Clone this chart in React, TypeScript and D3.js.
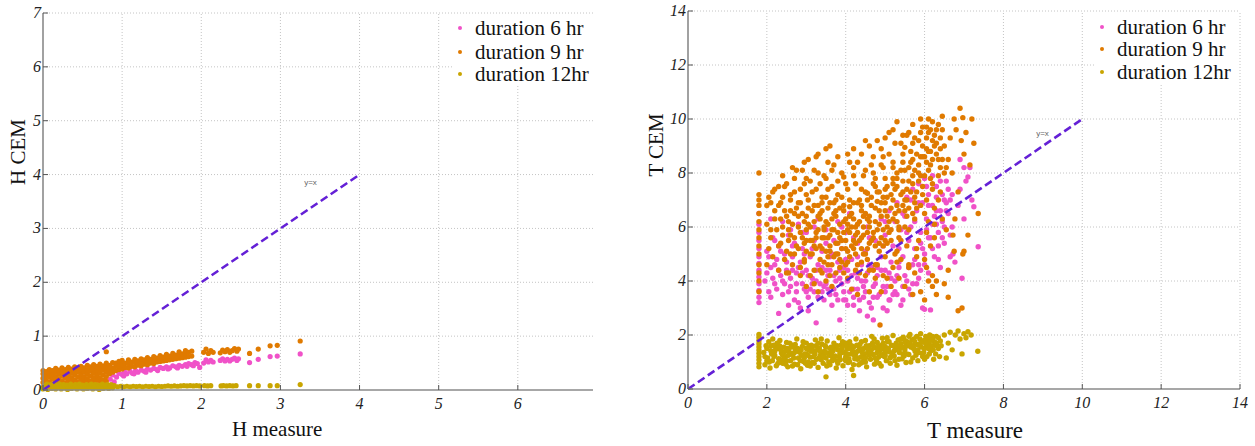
import React from 'react';
import * as d3 from 'd3';

type P = [number, number];

const legendLabels = ['duration 6 hr', 'duration 9 hr', 'duration 12hr'];
const seriesColors = ['#f052c8', '#e07a00', '#c9a500'];
const refColor = '#6420d6';

const hTicksX = [0, 1, 2, 3, 4, 5, 6];
const hTicksY = [0, 1, 2, 3, 4, 5, 6, 7];
const tTicksX = [0, 2, 4, 6, 8, 10, 12, 14];
const tTicksY = [0, 2, 4, 6, 8, 10, 12, 14];

const hRefLine: P[] = [[0, 0], [4, 4]];
const tRefLine: P[] = [[0, 0], [10, 10]];
const hRefLabelPos: P = [3.3, 3.8];
const tRefLabelPos: P = [8.83, 9.37];

// ---------- H panel ----------
const h6: P[] = [
  [0.85, 0.2], [0.88, 0.28], [0.9, 0.15], [0.93, 0.24], [0.96, 0.31], [1.0, 0.29], [1.03, 0.34], [1.06, 0.3],
  [1.1, 0.35], [1.13, 0.31], [1.17, 0.36], [1.2, 0.33], [1.24, 0.37], [1.28, 0.35], [1.32, 0.39], [1.36, 0.37],
  [1.4, 0.4], [1.44, 0.38], [1.48, 0.42], [1.52, 0.4], [1.56, 0.43], [1.6, 0.41], [1.64, 0.45], [1.68, 0.43],
  [1.72, 0.46], [1.76, 0.44], [1.8, 0.47], [1.84, 0.49], [1.88, 0.47], [1.92, 0.51], [1.95, 0.49], [1.98, 0.42],
  [1.02, 0.26], [1.15, 0.3], [1.3, 0.33], [1.45, 0.36], [1.58, 0.39], [1.7, 0.41], [1.82, 0.44], [1.9, 0.45],
  [2.03, 0.5], [2.06, 0.56], [2.09, 0.52], [2.12, 0.55], [2.15, 0.52], [2.24, 0.55], [2.27, 0.58], [2.3, 0.54],
  [2.33, 0.57], [2.36, 0.54], [2.39, 0.57], [2.42, 0.59], [2.45, 0.55], [2.47, 0.58],
  [2.61, 0.51], [2.72, 0.57], [2.87, 0.62], [2.96, 0.63], [3.25, 0.67],
];

const h9: P[] = [
  [0.0, 0.05], [0.0, 0.14], [0.0, 0.22], [0.0, 0.3], [0.0, 0.36],
  [0.04, 0.1], [0.04, 0.18], [0.04, 0.27], [0.04, 0.34],
  [0.08, 0.07], [0.08, 0.15], [0.08, 0.24], [0.08, 0.32], [0.08, 0.38],
  [0.12, 0.11], [0.12, 0.2], [0.12, 0.29], [0.12, 0.36],
  [0.16, 0.08], [0.16, 0.16], [0.16, 0.25], [0.16, 0.33], [0.16, 0.4],
  [0.2, 0.12], [0.2, 0.21], [0.2, 0.3], [0.2, 0.37],
  [0.24, 0.09], [0.24, 0.17], [0.24, 0.26], [0.24, 0.34], [0.24, 0.41],
  [0.28, 0.13], [0.28, 0.22], [0.28, 0.31], [0.28, 0.38],
  [0.32, 0.1], [0.32, 0.18], [0.32, 0.27], [0.32, 0.35], [0.32, 0.42],
  [0.36, 0.14], [0.36, 0.23], [0.36, 0.32], [0.36, 0.39],
  [0.4, 0.11], [0.4, 0.19], [0.4, 0.28], [0.4, 0.36], [0.4, 0.43],
  [0.44, 0.15], [0.44, 0.24], [0.44, 0.33], [0.44, 0.4],
  [0.48, 0.12], [0.48, 0.2], [0.48, 0.29], [0.48, 0.37], [0.48, 0.44],
  [0.52, 0.16], [0.52, 0.25], [0.52, 0.34], [0.52, 0.41],
  [0.56, 0.13], [0.56, 0.21], [0.56, 0.3], [0.56, 0.38], [0.56, 0.46],
  [0.6, 0.17], [0.6, 0.26], [0.6, 0.35], [0.6, 0.43],
  [0.64, 0.14], [0.64, 0.22], [0.64, 0.31], [0.64, 0.39], [0.64, 0.47],
  [0.68, 0.18], [0.68, 0.27], [0.68, 0.36], [0.68, 0.44],
  [0.72, 0.15], [0.72, 0.23], [0.72, 0.32], [0.72, 0.4], [0.72, 0.48],
  [0.76, 0.19], [0.76, 0.28], [0.76, 0.37], [0.76, 0.45],
  [0.8, 0.16], [0.8, 0.25], [0.8, 0.34], [0.8, 0.42], [0.8, 0.5], [0.8, 0.71],
  [0.84, 0.3], [0.84, 0.38], [0.84, 0.46],
  [0.88, 0.33], [0.88, 0.41], [0.88, 0.51],
  [0.92, 0.36], [0.92, 0.44], [0.92, 0.5],
  [0.96, 0.38], [0.96, 0.45], [0.96, 0.53],
  [1.0, 0.39], [1.0, 0.47], [1.0, 0.55],
  [1.04, 0.42], [1.04, 0.5],
  [1.08, 0.41], [1.08, 0.49], [1.08, 0.56],
  [1.12, 0.44], [1.12, 0.52],
  [1.16, 0.43], [1.16, 0.51], [1.16, 0.57],
  [1.2, 0.46], [1.2, 0.54],
  [1.24, 0.45], [1.24, 0.52], [1.24, 0.58],
  [1.28, 0.48], [1.28, 0.56],
  [1.32, 0.47], [1.32, 0.54], [1.32, 0.6],
  [1.36, 0.5], [1.36, 0.57],
  [1.4, 0.49], [1.4, 0.56], [1.4, 0.62],
  [1.44, 0.52], [1.44, 0.59],
  [1.48, 0.53], [1.48, 0.6], [1.48, 0.64],
  [1.52, 0.54], [1.52, 0.61],
  [1.56, 0.55], [1.56, 0.62], [1.56, 0.66],
  [1.6, 0.56], [1.6, 0.63],
  [1.64, 0.57], [1.64, 0.64], [1.64, 0.68],
  [1.68, 0.58], [1.68, 0.65],
  [1.72, 0.59], [1.72, 0.66], [1.72, 0.71],
  [1.76, 0.6], [1.76, 0.67],
  [1.8, 0.61], [1.8, 0.68], [1.8, 0.73],
  [1.84, 0.62], [1.84, 0.7],
  [1.88, 0.63], [1.88, 0.72],
  [2.03, 0.7], [2.06, 0.76], [2.09, 0.68], [2.12, 0.73], [2.15, 0.7],
  [2.24, 0.69], [2.27, 0.74], [2.3, 0.71], [2.33, 0.75], [2.36, 0.7], [2.39, 0.73], [2.42, 0.77], [2.45, 0.72], [2.47, 0.76],
  [2.61, 0.68], [2.72, 0.76], [2.87, 0.82], [2.96, 0.83], [3.25, 0.91],
];

const h12: P[] = [
  [0.0, 0.02], [0.02, 0.08], [0.03, 0.04], [0.05, 0.11], [0.06, 0.01], [0.08, 0.06], [0.1, 0.1], [0.11, 0.03],
  [0.13, 0.07], [0.15, 0.12], [0.16, 0.02], [0.18, 0.08], [0.2, 0.05], [0.21, 0.11], [0.23, 0.02], [0.25, 0.07],
  [0.26, 0.1], [0.28, 0.04], [0.3, 0.09], [0.31, 0.01], [0.33, 0.06], [0.35, 0.11], [0.36, 0.03], [0.38, 0.08],
  [0.4, 0.05], [0.41, 0.1], [0.43, 0.02], [0.45, 0.07], [0.46, 0.11], [0.48, 0.04], [0.5, 0.09], [0.51, 0.02],
  [0.53, 0.06], [0.55, 0.1], [0.56, 0.03], [0.58, 0.08], [0.6, 0.05], [0.61, 0.11], [0.63, 0.02], [0.65, 0.07],
  [0.66, 0.1], [0.68, 0.04], [0.7, 0.09], [0.71, 0.01], [0.73, 0.06], [0.75, 0.11], [0.76, 0.03], [0.78, 0.08],
  [0.8, 0.05], [0.81, 0.1], [0.83, 0.03], [0.85, 0.07], [0.86, 0.1], [0.88, 0.04], [0.9, 0.08],
  [0.94, 0.06], [0.98, 0.07], [1.02, 0.06], [1.06, 0.07], [1.1, 0.06], [1.14, 0.07], [1.18, 0.065], [1.22, 0.07],
  [1.26, 0.06], [1.3, 0.07], [1.34, 0.065], [1.38, 0.07], [1.42, 0.06], [1.46, 0.07], [1.5, 0.065], [1.54, 0.07],
  [1.58, 0.075], [1.62, 0.07], [1.66, 0.075], [1.7, 0.07], [1.74, 0.075], [1.78, 0.08], [1.82, 0.075], [1.86, 0.08],
  [1.9, 0.075], [1.94, 0.08], [1.98, 0.075], [2.04, 0.08], [2.08, 0.075], [2.12, 0.08],
  [2.25, 0.075], [2.28, 0.08], [2.32, 0.075], [2.36, 0.08], [2.4, 0.075], [2.44, 0.08],
  [2.61, 0.08], [2.72, 0.08], [2.87, 0.08], [2.96, 0.08], [3.25, 0.1],
];

// ---------- T panel ----------
const t6a: P[] = [
  [1.8, 3.2], [1.8, 3.4], [1.8, 3.65], [1.8, 3.9], [1.8, 4.15], [1.8, 4.4], [1.8, 4.65], [1.8, 4.9], [1.8, 5.2],
  [1.8, 5.5], [1.8, 5.8], [1.8, 6.1], [1.8, 6.5],
  [1.95, 4.0], [2.0, 5.1], [2.05, 3.6], [2.1, 4.5], [2.15, 5.6], [2.2, 3.9], [2.25, 4.8], [2.3, 2.8], [2.3, 5.3],
  [2.35, 4.2], [2.4, 3.5], [2.45, 5.0], [2.5, 4.4], [2.55, 5.7], [2.55, 3.1], [2.6, 3.8], [2.65, 4.9], [2.7, 3.3],
  [2.7, 5.4], [2.75, 4.3], [2.8, 3.2], [2.8, 6.1], [2.85, 3.0], [2.85, 4.7], [2.9, 5.2], [2.95, 3.7], [3.0, 4.4],
  [3.0, 5.8], [3.05, 3.4], [3.05, 2.9], [3.1, 4.9], [3.15, 4.1], [3.2, 5.5], [3.2, 3.6], [3.25, 2.45], [3.3, 4.6],
  [3.3, 6.3], [3.35, 3.9], [3.4, 5.1], [3.45, 3.3], [3.5, 4.4], [3.5, 5.9], [3.55, 3.7], [3.6, 4.9], [3.65, 3.1],
  [3.7, 4.2], [3.7, 5.5], [3.75, 3.5], [3.8, 6.2], [3.8, 4.7], [3.85, 2.56], [3.9, 3.9], [3.9, 5.2], [3.95, 4.5],
  [4.0, 3.3], [4.0, 5.8], [4.05, 4.0], [4.1, 3.6], [4.1, 6.5], [4.15, 4.8], [4.2, 3.1], [4.25, 4.3], [4.3, 5.4],
  [4.3, 3.7], [4.35, 2.9], [4.4, 4.6], [4.45, 3.4], [4.5, 5.1], [4.5, 4.0], [4.55, 6.0], [4.55, 2.7], [4.6, 3.2],
  [4.65, 4.5], [4.7, 2.56], [4.7, 3.8], [4.75, 5.5], [4.8, 4.2], [4.85, 3.5], [4.9, 4.9], [4.9, 6.3], [4.95, 3.0],
  [5.0, 4.4], [5.0, 5.7], [5.05, 3.8], [5.1, 3.3], [5.1, 6.6], [5.12, 3.3], [5.15, 4.7], [5.2, 5.3], [5.25, 4.0],
  [5.3, 3.5], [5.3, 6.9], [5.35, 4.5], [5.4, 5.9], [5.45, 3.3], [5.45, 4.9], [5.5, 6.4], [5.5, 4.2], [5.55, 7.1],
  [5.6, 5.5], [5.6, 3.7], [5.65, 6.0], [5.7, 4.6], [5.7, 7.4], [5.75, 5.2], [5.8, 6.6], [5.8, 3.9], [5.85, 7.6],
  [5.9, 5.8], [5.9, 4.4], [5.95, 3.0], [5.95, 6.9], [6.0, 5.0], [6.0, 7.8], [6.0, 2.95], [6.05, 6.3], [6.1, 4.3],
  [6.1, 7.2], [6.15, 5.6], [6.15, 2.93], [6.2, 6.8], [6.2, 7.9], [6.25, 4.9], [6.3, 6.1], [6.3, 7.5], [6.35, 5.3],
  [6.4, 6.6], [6.4, 4.5], [6.45, 7.2], [6.5, 5.4], [6.5, 6.0], [6.55, 7.7], [6.6, 6.5], [6.65, 4.9], [6.7, 7.2],
  [6.72, 5.0], [6.77, 4.7], [6.85, 6.8], [6.9, 8.5], [6.9, 7.4], [6.95, 4.1], [7.0, 8.2], [7.0, 6.3], [7.05, 7.7],
  [7.1, 7.85], [7.15, 8.2], [7.2, 7.0], [7.25, 6.75], [7.36, 5.27],
];

const t6b: P[] = [
  [2.0, 4.3], [2.1, 3.4], [2.2, 4.6], [2.25, 3.7], [2.35, 5.1], [2.45, 3.9], [2.5, 4.7], [2.6, 4.1], [2.65, 5.3],
  [2.75, 3.6], [2.8, 4.5], [2.9, 3.9], [2.95, 5.0], [3.05, 4.2], [3.1, 3.7], [3.15, 5.2], [3.25, 4.0], [3.3, 3.4],
  [3.4, 4.5], [3.45, 3.8], [3.55, 4.2], [3.6, 3.5], [3.65, 5.0], [3.75, 4.0], [3.8, 3.3], [3.85, 4.4], [3.95, 3.6],
  [4.0, 4.8], [4.05, 3.1], [4.15, 4.2], [4.2, 3.7], [4.3, 4.9], [4.35, 3.3], [4.4, 4.0], [4.5, 3.6], [4.6, 4.6],
  [4.65, 3.0], [4.75, 3.9], [4.8, 3.4], [4.9, 4.4], [5.0, 3.6], [5.05, 2.9], [5.15, 4.1], [5.25, 3.6], [5.35, 4.7],
  [5.4, 3.1], [5.55, 4.0], [5.65, 3.5], [5.75, 4.8], [5.85, 4.1], [5.9, 5.4], [6.0, 4.6], [6.05, 5.9], [6.1, 6.8],
  [6.2, 5.2], [6.25, 6.4], [6.3, 7.1], [6.35, 5.8], [6.4, 7.7], [6.45, 6.2], [6.5, 7.0], [6.55, 6.6], [6.6, 7.4],
  [6.65, 5.7], [6.7, 6.0], [6.05, 7.5], [5.85, 6.9], [5.75, 6.2], [5.65, 7.0], [5.55, 5.8], [5.45, 6.5], [5.35, 5.2],
  [5.25, 6.2], [4.95, 5.3], [5.0, 6.2], [4.6, 5.6], [4.2, 5.6], [3.9, 6.0], [3.5, 5.4], [3.2, 6.0], [2.9, 5.8],
  [2.6, 5.9], [2.4, 6.2], [2.2, 5.5], [2.1, 6.3],
];

const t6c: P[] = [
  [2.05, 4.9], [2.15, 4.1], [2.3, 4.4], [2.4, 4.0], [2.55, 3.6], [2.65, 4.4], [2.75, 3.9], [2.9, 4.3], [3.0, 3.6],
  [3.15, 3.9], [3.25, 4.4], [3.4, 3.6], [3.5, 3.9], [3.6, 4.4], [3.7, 3.7], [3.85, 4.1], [3.95, 3.3], [4.05, 4.4],
  [4.2, 3.4], [4.3, 4.1], [4.45, 3.8], [4.55, 4.3], [4.7, 3.4], [4.8, 4.5], [4.95, 3.8], [5.1, 4.3], [5.2, 3.5],
  [5.3, 4.2], [5.45, 3.8], [5.6, 4.5], [5.7, 3.9], [5.85, 4.6], [5.95, 5.2], [6.1, 5.6], [6.2, 6.1], [6.3, 6.6],
  [6.35, 4.8], [6.45, 5.6], [6.55, 6.9], [6.65, 7.0],
];

const t9a: P[] = [
  [1.8, 3.6], [1.8, 4.0], [1.8, 4.3], [1.8, 4.6], [1.8, 5.0], [1.8, 5.3], [1.8, 5.6], [1.8, 5.9], [1.8, 6.2],
  [1.8, 6.5], [1.8, 6.8], [1.8, 7.0], [1.8, 7.2], [1.8, 8.0],
  [2.0, 4.6], [2.0, 6.1], [2.0, 6.8], [2.05, 5.2], [2.1, 6.9], [2.1, 5.6], [2.15, 4.9], [2.2, 6.3], [2.2, 7.4],
  [2.25, 5.9], [2.3, 6.8], [2.3, 4.4], [2.3, 7.5], [2.35, 5.4], [2.4, 7.1], [2.4, 6.0], [2.45, 6.6], [2.5, 5.1],
  [2.5, 7.6], [2.5, 4.3], [2.55, 6.2], [2.6, 7.0], [2.6, 5.7], [2.6, 6.6], [2.65, 4.6], [2.7, 6.5], [2.7, 7.8],
  [2.75, 5.3], [2.8, 6.9], [2.8, 6.0], [2.85, 7.4], [2.9, 5.6], [2.9, 8.1], [2.9, 6.5], [2.95, 4.8], [3.0, 6.4],
  [3.0, 7.2], [3.0, 5.1], [3.05, 8.5], [3.1, 6.0], [3.1, 7.7], [3.1, 5.5], [3.15, 5.5], [3.2, 6.8], [3.2, 4.4],
  [3.2, 3.9], [3.25, 7.4], [3.25, 5.2], [3.3, 5.9], [3.3, 8.0], [3.35, 6.5], [3.4, 5.2], [3.4, 7.1], [3.4, 6.6],
  [3.45, 4.7], [3.45, 6.0], [3.5, 6.2], [3.5, 7.8], [3.5, 8.9], [3.55, 5.6], [3.55, 4.9], [3.6, 6.9], [3.6, 4.2],
  [3.6, 5.3], [3.65, 7.5], [3.65, 6.3], [3.7, 5.9], [3.7, 8.3], [3.75, 6.6], [3.75, 5.4], [3.8, 5.0], [3.8, 7.2],
  [3.85, 6.1], [3.85, 4.8], [3.9, 8.0], [3.9, 5.5], [3.95, 6.8], [3.95, 5.8], [3.95, 4.3], [4.0, 4.6], [4.0, 7.6],
  [4.0, 6.3], [4.05, 8.7], [4.05, 5.1], [4.1, 5.8], [4.1, 7.0], [4.15, 6.5], [4.15, 6.0], [4.2, 5.2], [4.2, 7.9],
  [4.25, 6.0], [4.25, 5.4], [4.3, 8.4], [4.3, 6.9], [4.3, 3.5], [4.35, 4.3], [4.35, 6.2], [4.4, 7.4], [4.4, 5.6],
  [4.4, 4.7], [4.45, 6.4], [4.45, 5.0], [4.5, 8.1], [4.5, 5.0], [4.55, 7.0], [4.55, 5.8], [4.6, 9.0], [4.6, 6.2],
  [4.65, 5.5], [4.65, 6.8], [4.7, 7.6], [4.7, 8.6], [4.75, 6.7], [4.75, 5.3], [4.75, 4.1], [4.8, 4.6], [4.8, 5.9],
  [4.85, 7.3], [4.85, 6.1], [4.87, 2.37], [4.9, 8.3], [4.9, 6.4], [4.9, 3.6], [4.95, 5.3], [4.95, 7.1], [5.0, 7.8],
  [5.0, 9.3], [5.0, 6.9], [5.05, 4.1], [5.05, 6.0], [5.1, 5.8], [5.1, 8.7], [5.15, 7.2], [5.15, 6.7], [5.2, 6.3],
  [5.2, 9.6], [5.2, 4.5], [5.25, 5.0], [5.25, 7.4], [5.3, 8.0], [5.3, 7.5], [5.35, 6.6], [5.35, 5.9], [5.4, 9.1],
  [5.4, 5.5], [5.45, 8.4], [5.45, 7.7], [5.5, 7.0], [5.5, 6.0], [5.5, 3.8], [5.55, 9.4], [5.55, 6.4], [5.6, 7.7],
  [5.6, 4.6], [5.65, 8.8], [5.65, 7.3], [5.7, 6.5], [5.7, 9.8], [5.75, 8.1], [5.75, 6.9], [5.8, 7.3], [5.8, 5.2],
  [5.85, 9.2], [5.85, 8.0], [5.9, 8.6], [5.9, 6.8], [5.9, 3.6], [5.95, 9.7], [5.95, 7.5], [6.0, 7.9], [6.0, 4.8],
  [6.0, 3.3], [6.05, 8.9], [6.05, 8.4], [6.1, 9.5], [6.1, 6.2], [6.1, 4.0], [6.15, 8.3], [6.15, 7.8], [6.2, 7.4],
  [6.2, 9.9], [6.25, 5.6], [6.25, 9.0], [6.3, 8.7], [6.3, 4.0], [6.3, 3.5], [6.35, 7.0], [6.35, 8.5], [6.4, 9.3],
  [6.45, 6.3], [6.45, 9.6], [6.5, 8.0], [6.5, 9.0], [6.5, 3.9], [6.55, 5.9], [6.6, 8.5], [6.6, 3.4], [6.6, 4.4],
  [6.65, 9.3], [6.7, 8.0], [6.72, 5.7], [6.75, 10.0], [6.75, 5.1], [6.77, 6.3], [6.8, 9.6], [6.85, 7.3], [6.85, 2.9],
  [6.9, 10.4], [6.93, 9.2], [6.95, 3.0], [6.97, 10.05], [6.97, 5.0], [7.0, 8.7], [7.0, 5.1], [7.05, 9.5], [7.1, 5.7],
  [7.15, 8.3], [7.2, 10.0], [7.25, 9.1], [7.36, 6.5],
];

const t9b: P[] = [
  [5.3, 9.9], [5.6, 9.5], [5.9, 10.0], [6.05, 9.7], [6.3, 9.6], [5.1, 9.5], [4.8, 9.2], [6.45, 10.1],
  [3.6, 9.0], [4.2, 8.9], [4.5, 9.2], [4.9, 8.9], [5.25, 9.1], [5.5, 8.95], [5.75, 9.3], [6.2, 9.2], [6.4, 8.9], [3.3, 8.7],
  [2.95, 8.4], [3.25, 8.6], [3.55, 8.4], [3.8, 8.6], [4.1, 8.4], [4.4, 8.7], [4.65, 8.3], [4.95, 8.6], [5.2, 8.4],
  [5.45, 8.7], [5.7, 8.5], [5.95, 8.6], [6.15, 8.8], [6.45, 8.5], [2.65, 8.2],
  [2.4, 7.9], [2.75, 8.1], [3.0, 7.8], [3.2, 8.1], [3.45, 7.9], [3.65, 8.1], [3.95, 7.85], [4.2, 8.2], [4.45, 7.9],
  [4.7, 8.0], [4.95, 8.2], [5.2, 7.8], [5.4, 8.1], [5.6, 8.2], [5.85, 7.7], [6.1, 8.1], [6.35, 7.9], [6.55, 8.2],
  [2.15, 7.3], [2.45, 7.5], [2.7, 7.3], [2.95, 7.6], [3.15, 7.3], [3.35, 7.6], [3.55, 7.4], [3.8, 7.7], [4.05, 7.4],
  [4.25, 7.6], [4.5, 7.3], [4.75, 7.5], [5.0, 7.4], [5.2, 7.6], [5.45, 7.3], [5.7, 7.6], [5.95, 7.2], [6.2, 7.6], [6.4, 7.3],
  [2.05, 7.1], [2.35, 6.9], [2.6, 7.2], [2.85, 6.9], [3.05, 7.0], [3.3, 6.8], [3.5, 7.1], [3.7, 6.9], [3.9, 7.1],
  [4.1, 6.75], [4.35, 7.0], [4.55, 7.25], [4.8, 6.95], [5.05, 7.1], [5.3, 6.8], [5.55, 7.0], [5.8, 6.7], [6.05, 7.0], [6.25, 6.7],
  [2.2, 6.6], [2.5, 6.4], [2.75, 6.7], [2.95, 6.2], [3.15, 6.6], [3.35, 6.3], [3.55, 6.7], [3.75, 6.4], [3.95, 6.6],
  [4.2, 6.3], [4.4, 6.6], [4.6, 6.4], [4.85, 6.6], [5.05, 6.4], [5.3, 6.2], [5.5, 6.6], [5.75, 6.3], [6.0, 6.5], [6.25, 6.1],
  [2.1, 5.9], [2.4, 5.7], [2.65, 6.1], [2.85, 5.8], [3.05, 6.1], [3.25, 5.8], [3.45, 5.6], [3.65, 5.9], [3.85, 5.6],
  [4.05, 5.9], [4.25, 5.7], [4.45, 6.0], [4.7, 5.8], [4.9, 5.6], [5.15, 5.9], [5.35, 5.6], [5.6, 5.9], [5.85, 5.5], [6.05, 5.8],
  [2.3, 5.3], [2.55, 5.5], [2.8, 5.2], [3.0, 5.5], [3.2, 5.3], [3.4, 5.6], [3.6, 5.1], [3.8, 5.4], [4.0, 5.2],
  [4.2, 5.5], [4.4, 5.2], [4.6, 5.4], [4.85, 5.1], [5.05, 5.4], [5.3, 5.1], [5.55, 5.3], [5.8, 4.9], [6.15, 5.3],
  [2.45, 4.8], [2.7, 5.0], [2.95, 4.7], [3.15, 5.0], [3.35, 4.8], [3.55, 4.6], [3.7, 4.9], [3.9, 4.7], [4.1, 4.9],
  [4.3, 4.6], [4.55, 4.8], [4.75, 4.6], [5.0, 4.9], [5.3, 4.7], [5.6, 4.5],
  [2.55, 4.3], [2.85, 4.5], [3.1, 4.2], [3.35, 4.4], [3.5, 4.0], [3.75, 4.3], [4.05, 4.1], [4.25, 4.4], [4.5, 4.2],
  [4.7, 4.4], [4.95, 4.2], [5.35, 4.1], [5.75, 4.3], [6.05, 4.5],
  [3.0, 3.8], [3.3, 3.6], [3.65, 3.8], [4.15, 3.7], [4.6, 3.6], [5.15, 3.8], [5.7, 3.5], [6.2, 3.8],
];

const t9c: P[] = [
  [2.35, 6.3], [2.55, 5.9], [2.7, 5.6], [2.8, 6.4], [2.95, 5.4], [3.05, 6.7], [3.1, 5.0], [3.2, 6.2], [3.25, 5.6],
  [3.35, 5.3], [3.4, 6.9], [3.45, 5.9], [3.55, 6.1], [3.6, 5.7], [3.65, 4.6], [3.7, 6.5], [3.75, 5.0], [3.8, 5.8],
  [3.85, 6.7], [3.9, 5.2], [3.95, 6.2], [4.0, 5.5], [4.05, 4.7], [4.1, 6.4], [4.15, 5.3], [4.2, 6.9], [4.25, 5.0],
  [4.3, 6.1], [4.35, 5.5], [4.4, 6.8], [4.45, 5.7], [4.5, 6.5], [4.55, 5.2], [4.6, 6.0], [4.65, 7.1], [4.7, 5.6],
  [4.75, 6.2], [4.8, 7.3], [4.85, 5.4], [4.9, 6.9], [4.95, 5.9], [5.0, 6.6], [5.05, 7.5], [5.1, 6.2], [5.15, 5.5],
  [5.2, 7.0], [5.25, 6.5], [5.3, 7.8], [5.35, 6.0], [5.4, 7.2], [5.45, 6.8], [5.5, 8.1], [5.55, 7.4], [5.6, 6.7],
  [5.65, 8.4], [5.7, 7.9], [5.75, 7.1], [5.8, 8.7], [5.85, 8.3], [5.9, 7.9], [5.95, 9.0], [6.0, 8.6], [6.05, 9.3],
  [6.1, 8.8], [6.15, 9.6], [6.2, 8.5], [6.25, 9.4], [6.3, 9.1], [6.35, 9.8], [6.4, 8.2], [3.0, 5.9], [3.3, 6.4],
  [3.5, 5.1], [3.75, 7.0], [4.05, 6.1], [4.3, 5.8], [4.55, 6.3], [4.75, 7.8], [5.0, 5.5], [5.2, 8.2], [5.45, 9.4],
  [5.7, 9.1], [5.9, 9.5], [6.1, 10.0], [2.6, 5.0], [2.85, 4.2], [3.4, 4.3], [3.85, 4.5], [4.6, 4.4], [5.4, 4.8], [6.2, 4.2],
];

const t12a: P[] = [
  [1.8, 0.82], [1.8, 0.95], [1.8, 1.08], [1.8, 1.2], [1.8, 1.32], [1.8, 1.44], [1.8, 1.56], [1.8, 1.68], [1.8, 1.8],
  [1.8, 1.92], [1.8, 2.02],
  [1.92, 1.35], [1.95, 0.9], [1.98, 1.6], [2.02, 1.15], [2.05, 1.75], [2.08, 0.78], [2.1, 1.42], [2.12, 1.3],
  [2.14, 1.05], [2.17, 1.62], [2.2, 1.25], [2.22, 1.55], [2.24, 0.86], [2.27, 1.5], [2.3, 1.12], [2.33, 1.8],
  [2.35, 1.0], [2.37, 1.33], [2.4, 0.95], [2.43, 1.55], [2.45, 1.38], [2.47, 1.2], [2.5, 1.72], [2.53, 0.82],
  [2.56, 1.4], [2.58, 1.7], [2.6, 1.05], [2.63, 1.63], [2.66, 1.28], [2.68, 1.15], [2.7, 0.92], [2.73, 1.48],
  [2.76, 1.85], [2.78, 1.5], [2.8, 1.15], [2.83, 1.36], [2.86, 0.75], [2.88, 1.25], [2.9, 1.58], [2.93, 1.02],
  [2.96, 1.3], [2.98, 0.95], [3.0, 1.7], [3.03, 0.88], [3.06, 1.45], [3.08, 1.6], [3.1, 1.18], [3.13, 1.62],
  [3.16, 0.98], [3.18, 1.2], [3.2, 1.38], [3.23, 1.82], [3.26, 1.1], [3.28, 1.45], [3.3, 0.8], [3.33, 1.52],
  [3.36, 1.25], [3.38, 1.08], [3.4, 1.66], [3.43, 0.95], [3.46, 1.4], [3.48, 1.6], [3.5, 0.45], [3.5, 1.15],
  [3.53, 1.78], [3.56, 1.32], [3.58, 1.25], [3.6, 0.9], [3.63, 1.55], [3.66, 1.05], [3.68, 1.42], [3.7, 1.7],
  [3.73, 1.22], [3.76, 0.78], [3.78, 1.05], [3.8, 1.45], [3.83, 1.9], [3.86, 1.08], [3.88, 1.62], [3.9, 1.35],
  [3.93, 0.86], [3.96, 1.62], [3.98, 1.35], [4.0, 1.2], [4.03, 1.48], [4.06, 0.98], [4.08, 1.12], [4.1, 1.75],
  [4.13, 1.3], [4.16, 0.72], [4.18, 1.4], [4.2, 1.56], [4.2, 0.5], [4.23, 1.12], [4.26, 1.85], [4.28, 1.62],
  [4.3, 1.4], [4.33, 0.9], [4.36, 1.65], [4.38, 0.95], [4.4, 1.2], [4.43, 1.02], [4.46, 1.5], [4.48, 1.3],
  [4.5, 1.8], [4.53, 0.82], [4.56, 1.35], [4.58, 1.45], [4.6, 1.6], [4.63, 1.1], [4.66, 1.95], [4.68, 1.7],
  [4.7, 1.28], [4.73, 0.92], [4.76, 1.52], [4.78, 1.05], [4.8, 1.72], [4.83, 1.18], [4.86, 1.42], [4.88, 1.6],
  [4.9, 0.85], [4.93, 1.88], [4.96, 1.3], [4.98, 1.2], [5.0, 1.58], [5.03, 1.05], [5.06, 1.76], [5.08, 1.5],
  [5.1, 1.38], [5.13, 0.95], [5.16, 1.62], [5.18, 1.3], [5.2, 1.98], [5.23, 1.22], [5.26, 1.48], [5.28, 1.7],
  [5.3, 0.88], [5.33, 1.82], [5.36, 1.35], [5.38, 1.5], [5.4, 1.68], [5.43, 1.12], [5.46, 1.92], [5.48, 1.22],
  [5.5, 1.45], [5.53, 0.98], [5.56, 1.75], [5.58, 1.6], [5.6, 1.28], [5.63, 2.02], [5.66, 1.55], [5.68, 1.82],
  [5.7, 1.15], [5.73, 1.85], [5.76, 1.4], [5.78, 1.25], [5.8, 1.95], [5.83, 1.05], [5.86, 1.62], [5.88, 1.85],
  [5.9, 2.05], [5.93, 1.32], [5.96, 1.78], [5.98, 1.35], [6.0, 1.5], [6.03, 1.95], [6.06, 1.2], [6.08, 1.85],
  [6.1, 1.7], [6.13, 2.0], [6.16, 1.42], [6.18, 1.6], [6.2, 1.85], [6.23, 1.1], [6.26, 1.62], [6.28, 1.3],
  [6.3, 1.95], [6.35, 1.5], [6.4, 1.78],
  [6.5, 2.0], [6.55, 1.15], [6.6, 1.7], [6.65, 2.1], [6.7, 1.45], [6.78, 2.0], [6.85, 2.15], [6.9, 1.85],
  [6.95, 1.3], [7.0, 2.05], [7.05, 1.9], [7.1, 2.12], [7.18, 2.0], [7.35, 1.4],
];

const t12b: P[] = [
  [1.95, 1.2], [2.0, 1.5], [2.06, 1.0], [2.15, 1.85], [2.2, 1.4], [2.28, 0.95], [2.32, 1.6], [2.4, 1.25],
  [2.48, 0.92], [2.52, 1.5], [2.6, 1.32], [2.65, 0.85], [2.72, 1.65], [2.8, 1.4], [2.85, 1.05], [2.92, 1.75],
  [3.0, 1.3], [3.05, 1.0], [3.12, 1.4], [3.2, 0.95], [3.25, 1.6], [3.32, 1.15], [3.38, 1.85], [3.45, 1.3],
  [3.52, 0.85], [3.6, 1.5], [3.65, 1.2], [3.72, 1.55], [3.8, 0.95], [3.85, 1.3], [3.92, 1.75], [4.0, 1.05],
  [4.05, 1.6], [4.12, 1.5], [4.2, 0.9], [4.25, 1.3], [4.32, 1.15], [4.4, 1.75], [4.45, 1.0], [4.52, 1.6],
  [4.6, 1.25], [4.65, 1.45], [4.72, 1.85], [4.8, 1.35], [4.85, 0.95], [4.92, 1.5], [5.0, 1.25], [5.05, 1.9],
  [5.12, 1.15], [5.2, 1.6], [5.25, 1.05], [5.32, 1.45], [5.4, 1.85], [5.45, 1.3], [5.52, 1.7], [5.6, 1.95],
  [5.65, 1.0], [5.72, 1.5], [5.8, 1.65], [5.85, 1.35], [5.92, 1.55], [6.0, 1.8], [6.05, 1.6], [6.12, 1.3],
  [6.2, 1.95], [6.25, 1.75], [6.32, 1.6], [6.38, 1.2], [2.5, 1.05], [3.0, 1.5], [3.5, 1.35], [4.0, 1.7],
  [4.5, 1.15], [5.0, 1.4], [5.5, 1.55], [6.0, 1.1],
];

const t12c: P[] = [
  [2.0, 1.05], [2.1, 1.6], [2.18, 1.2], [2.26, 1.7], [2.35, 1.45], [2.42, 1.1], [2.55, 1.25], [2.62, 1.55],
  [2.7, 1.35], [2.78, 0.9], [2.87, 1.45], [2.95, 1.15], [3.04, 1.25], [3.1, 0.85], [3.15, 1.5], [3.22, 1.3],
  [3.3, 1.7], [3.35, 1.4], [3.42, 1.2], [3.5, 1.55], [3.57, 1.0], [3.64, 1.35], [3.7, 1.1], [3.78, 1.6],
  [3.84, 1.2], [3.9, 1.5], [3.98, 1.1], [4.04, 1.3], [4.1, 1.0], [4.15, 1.6], [4.22, 1.25], [4.3, 1.1],
  [4.35, 1.5], [4.42, 1.35], [4.5, 1.0], [4.55, 1.55], [4.62, 1.35], [4.7, 1.6], [4.75, 1.15], [4.82, 1.55],
  [4.9, 1.25], [4.95, 1.7], [5.02, 1.45], [5.1, 1.75], [5.15, 1.2], [5.22, 1.4], [5.3, 1.6], [5.35, 1.1],
  [5.42, 1.55], [5.5, 1.8], [5.55, 1.3], [5.62, 1.7], [5.7, 1.6], [5.75, 1.75], [5.82, 1.45], [5.9, 1.7],
  [5.95, 1.2], [6.02, 1.7], [6.1, 1.5], [6.15, 1.8], [6.22, 1.45], [6.3, 1.7], [6.35, 1.9], [6.42, 1.6],
];

const t6 = [...t6a, ...t6b, ...t6c];
const t9 = [...t9a, ...t9b, ...t9c];
const t12 = [...t12a, ...t12b, ...t12c];

const hSeries = [h6, h9, h12];
const tSeries = [t6, t9, t12];

const serif = '"Liberation Serif", "Times New Roman", serif';

type PanelProps = {
  xRange: [number, number];
  yRange: [number, number];
  xDomain: [number, number];
  yDomain: [number, number];
  xTicks: number[];
  yTicks: number[];
  gridX: number[];
  series: P[][];
  refLine: P[];
  refLabel: P;
  xTitle: string;
  xTitlePos: [number, number];
  xTitleSize: number;
  yTitle: string;
  yTitlePos: [number, number];
  legendBox: [number, number, number, number];
  legendX: number;
  legendRows: number[];
  r: number;
};

function Panel(p: PanelProps) {
  const x = d3.scaleLinear().domain(p.xDomain).range(p.xRange);
  const y = d3.scaleLinear().domain(p.yDomain).range(p.yRange);
  const line = d3.line<P>().x((d) => x(d[0])).y((d) => y(d[1]));
  const [x0, x1] = p.xRange;
  const [yb, yt] = p.yRange;
  const [lx, ly, lw, lh] = p.legendBox;
  return (
    <g>
      {p.gridX.map((t) => (
        <line key={'gx' + t} x1={x(t)} x2={x(t)} y1={yb} y2={yt} stroke="#c4c4c4" strokeWidth={1} strokeDasharray="1,2" />
      ))}
      {p.yTicks.filter((t) => t !== 0).map((t) => (
        <line key={'gy' + t} x1={x0} x2={x1} y1={y(t)} y2={y(t)} stroke="#c4c4c4" strokeWidth={1} strokeDasharray="1,2" />
      ))}
      <rect x={lx} y={ly} width={lw} height={lh} fill="#fff" />
      {p.series.map((s, i) => (
        <g key={'s' + i} fill={seriesColors[i]}>
          {s.map((d, j) => (
            <circle key={j} cx={x(d[0])} cy={y(d[1])} r={p.r} />
          ))}
        </g>
      ))}
      <path d={line(p.refLine) || ''} fill="none" stroke={refColor} strokeWidth={2.6} strokeDasharray="8,4" />
      <text x={x(p.refLabel[0])} y={y(p.refLabel[1])} fontSize={8} fill="#666" fontFamily="Arial, sans-serif">y=x</text>
      <line x1={x0} x2={x1} y1={yb} y2={yb} stroke="#8a8a8a" strokeWidth={1.6} />
      <line x1={x0} x2={x0} y1={yb} y2={yt} stroke="#8a8a8a" strokeWidth={1.6} />
      {p.xTicks.map((t) => (
        <g key={'xt' + t}>
          <line x1={x(t)} x2={x(t)} y1={yb} y2={yb - 5} stroke="#555" strokeWidth={1} />
          <text x={x(t)} y={yb + 19} textAnchor="middle" fontSize={16} fontStyle="italic" fontFamily={serif} fill="#222">{t}</text>
        </g>
      ))}
      {p.yTicks.map((t) => (
        <g key={'yt' + t}>
          <line x1={x0} x2={x0 + 5} y1={y(t)} y2={y(t)} stroke="#555" strokeWidth={1} />
          <text x={x0 - 2} y={y(t) + 5} textAnchor="end" fontSize={16} fontStyle="italic" fontFamily={serif} fill="#222">{t}</text>
        </g>
      ))}
      <text x={p.xTitlePos[0]} y={p.xTitlePos[1]} fontSize={p.xTitleSize} fontFamily={serif} fill="#111">{p.xTitle}</text>
      <text transform={`translate(${p.yTitlePos[0]},${p.yTitlePos[1]}) rotate(-90)`} textAnchor="middle" fontSize={21} fontFamily={serif} fill="#111">{p.yTitle}</text>
      {legendLabels.map((lab, i) => (
        <g key={'lg' + i}>
          <circle cx={p.legendX - 15} cy={p.legendRows[i]} r={2} fill={seriesColors[i]} />
          <text x={p.legendX} y={p.legendRows[i] + 7} fontSize={21} fontFamily={serif} fill="#111">{lab}</text>
        </g>
      ))}
    </g>
  );
}

export default function App() {
  return (
    <svg width={1255} height={446} style={{ position: 'absolute', left: 0, top: 0, background: '#fff' }}>
      <rect x={0} y={0} width={1255} height={446} fill="#fff" />
      <Panel
        xRange={[43, 593]}
        yRange={[390, 13]}
        xDomain={[0, 6.95]}
        yDomain={[0, 7]}
        xTicks={hTicksX}
        yTicks={hTicksY}
        gridX={[1, 2, 3, 4, 5, 6]}
        series={hSeries}
        refLine={hRefLine}
        refLabel={hRefLabelPos}
        xTitle="H measure"
        xTitlePos={[232, 436]}
        xTitleSize={21}
        yTitle="H CEM"
        yTitlePos={[25, 152]}
        legendBox={[452, 14, 141, 72]}
        legendX={475}
        legendRows={[28, 52, 74]}
        r={2.6}
      />
      <Panel
        xRange={[688, 1240]}
        yRange={[389, 11]}
        xDomain={[0, 14]}
        yDomain={[0, 14]}
        xTicks={tTicksX}
        yTicks={tTicksY}
        gridX={[2, 4, 6, 8, 10, 12, 14]}
        series={tSeries}
        refLine={tRefLine}
        refLabel={tRefLabelPos}
        xTitle="T measure"
        xTitlePos={[927, 438]}
        xTitleSize={23}
        yTitle="T CEM"
        yTitlePos={[663, 145]}
        legendBox={[1095, 12, 143, 72]}
        legendX={1117}
        legendRows={[27, 49, 72]}
        r={2.7}
      />
    </svg>
  );
}
